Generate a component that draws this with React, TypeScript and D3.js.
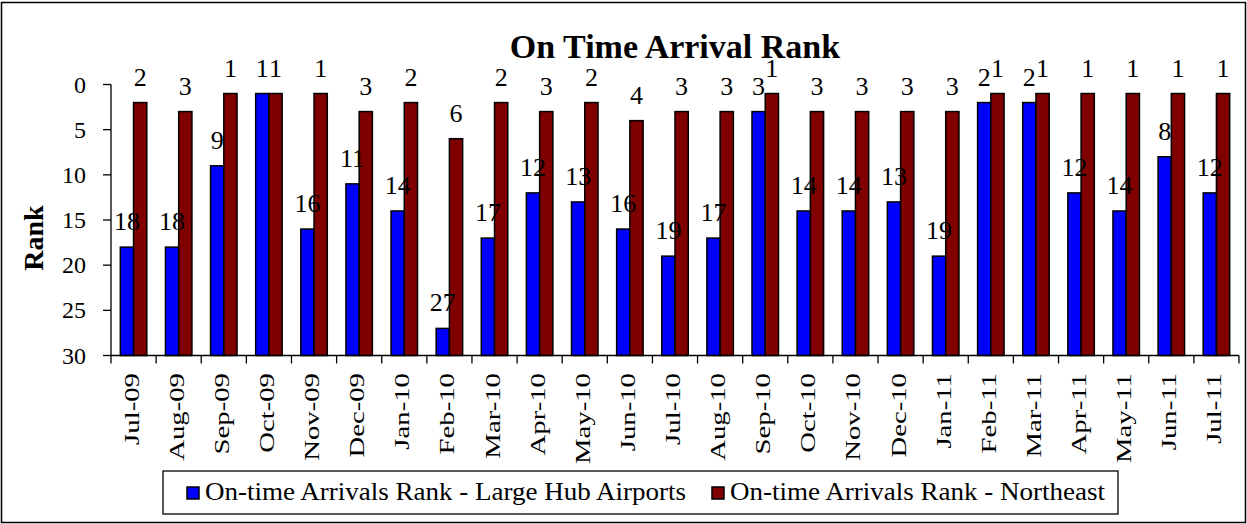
import React from "react";
import * as d3 from "d3";

const months = [
  "Jul-09", "Aug-09", "Sep-09", "Oct-09", "Nov-09", "Dec-09",
  "Jan-10", "Feb-10", "Mar-10", "Apr-10", "May-10", "Jun-10",
  "Jul-10", "Aug-10", "Sep-10", "Oct-10", "Nov-10", "Dec-10",
  "Jan-11", "Feb-11", "Mar-11", "Apr-11", "May-11", "Jun-11", "Jul-11",
];
const largeHubRank = [18, 18, 9, 1, 16, 11, 14, 27, 17, 12, 13, 16, 19, 17, 3, 14, 14, 13, 19, 2, 2, 12, 14, 8, 12];
const northeastRank = [2, 3, 1, 1, 1, 3, 2, 6, 2, 3, 2, 4, 3, 3, 1, 3, 3, 3, 3, 1, 1, 1, 1, 1, 1];
const seriesNames = ["On-time Arrivals Rank - Large Hub Airports", "On-time Arrivals Rank - Northeast"];
const seriesColors = ["#0000ff", "#800000"];
const yTicks = [0, 5, 10, 15, 20, 25, 30];

const W = 1247;
const H = 524;
const font = "Liberation Serif, Times New Roman, serif";

export default function App() {
  const left = 111;
  const right = 1239;
  const top = 84.5;
  const bottom = 355.5;

  const x = d3.scaleBand<string>().domain(months).range([left, right]).paddingInner(0.413).paddingOuter(0.2065);
  const inner = d3.scaleBand<number>().domain([0, 1]).range([0, x.bandwidth()]);
  const y = d3.scaleLinear().domain([0, 30]).range([top, bottom]);
  const series = [largeHubRank, northeastRank];
  const step = x.step();
  const boundaries = d3.range(months.length + 1).map((i) => left + i * step);

  return (
    <svg width={W} height={H} style={{ position: "absolute", left: 0, top: 0 }} fontFamily={font}>
      <rect x={0} y={0} width={W} height={H} fill="#fff" />
      <rect x={1.5} y={2.5} width={W - 3} height={H - 4} fill="none" stroke="#000" strokeWidth={1.5} />

      <text x={(left + right) / 2} y={58} textAnchor="middle" fontSize={34} fontWeight="bold" fontFamily={font}>
        On Time Arrival Rank
      </text>
      <text transform={`translate(43,238) rotate(-90)`} textAnchor="middle" fontSize={28} fontWeight="bold" fontFamily={font}>
        Rank
      </text>

      {/* y axis */}
      <line x1={left} x2={left} y1={y(0)} y2={y(30)} stroke="#000" strokeWidth={1.3} />
      {yTicks.map((t) => (
        <g key={t}>
          <line x1={left - 8} x2={left} y1={y(t)} y2={y(t)} stroke="#000" strokeWidth={1.3} />
          <text x={86} y={y(t)} dy="0.34em" textAnchor="end" fontSize={24} fontFamily={font}>
            {t}
          </text>
        </g>
      ))}

      {/* bars */}
      {series.map((vals, si) =>
        vals.map((v, i) => {
          const bx = (x(months[i]) ?? 0) + (inner(si) ?? 0);
          return (
            <rect
              key={`${si}-${i}`}
              x={bx}
              y={y(v)}
              width={inner.bandwidth()}
              height={y(30) - y(v)}
              fill={seriesColors[si]}
              stroke="#000"
              strokeWidth={1.5}
            />
          );
        })
      )}

      {/* x axis */}
      <line x1={left} x2={right} y1={y(30)} y2={y(30)} stroke="#000" strokeWidth={1.3} />
      {boundaries.map((bx, i) => (
        <line key={i} x1={bx} x2={bx} y1={y(30)} y2={y(30) + 8} stroke="#000" strokeWidth={1.3} />
      ))}
      {months.map((m) => (
        <text
          key={m}
          transform={`translate(${(x(m) ?? 0) + x.bandwidth() / 2 + 5},373) rotate(-90) scale(1.37,1)`}
          textAnchor="end"
          fontSize={21}
          fontFamily={font}
        >
          {m}
        </text>
      ))}

      {/* data labels */}
      {series.map((vals, si) =>
        vals.map((v, i) => (
          <text
            key={`l${si}-${i}`}
            x={(x(months[i]) ?? 0) + (inner(si) ?? 0) + inner.bandwidth() / 2}
            y={y(v) - 17}
            textAnchor="middle"
            fontSize={26}
            fontFamily={font}
          >
            {v}
          </text>
        ))
      )}

      {/* legend */}
      <rect x={163} y={471} width={955} height={43} fill="#fff" stroke="#000" strokeWidth={1.3} />
      {[
        { sx: 187, tx: 205, len: 481 },
        { sx: 712, tx: 730, len: 375 },
      ].map((e, i) => (
        <g key={i}>
          <rect x={e.sx} y={487} width={12} height={12} fill={seriesColors[i]} stroke="#000" strokeWidth={1.5} />
          <text x={e.tx} y={500} fontSize={26} fontFamily={font} textLength={e.len} lengthAdjust="spacingAndGlyphs">
            {seriesNames[i]}
          </text>
        </g>
      ))}
    </svg>
  );
}
